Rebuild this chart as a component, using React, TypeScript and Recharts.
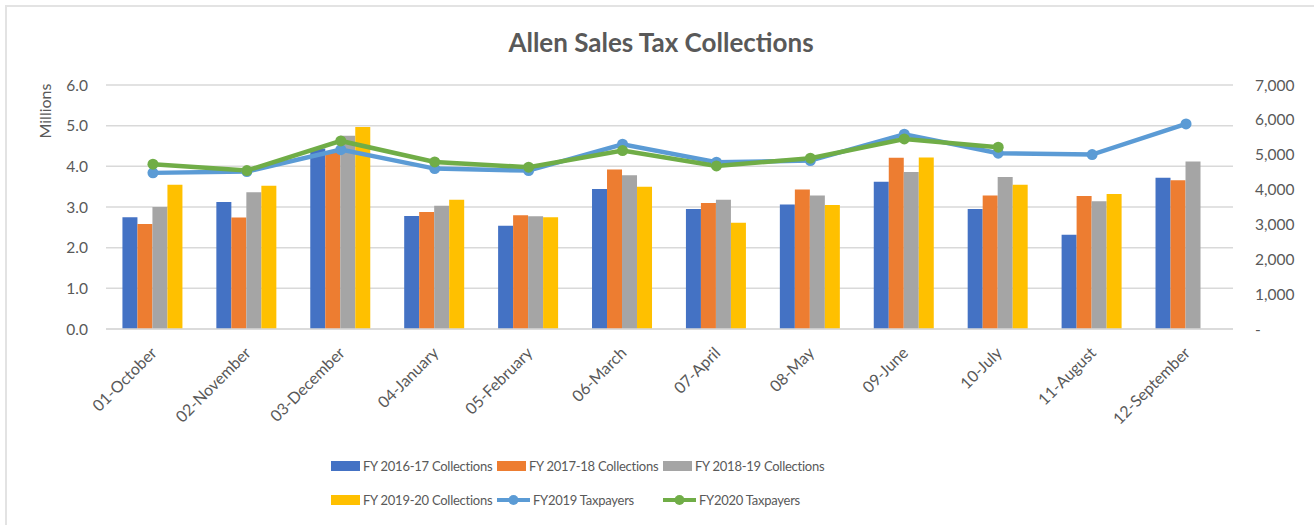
import React from "react";
import {
  ComposedChart,
  Bar,
  Line,
  XAxis,
  YAxis,
  CartesianGrid,
} from "recharts";

const months = [
  "01-October",
  "02-November",
  "03-December",
  "04-January",
  "05-February",
  "06-March",
  "07-April",
  "08-May",
  "09-June",
  "10-July",
  "11-August",
  "12-September",
];

// collections, in millions
const fy1617 = [2.75, 3.12, 4.44, 2.78, 2.54, 3.44, 2.95, 3.06, 3.62, 2.95, 2.32, 3.72];
const fy1718 = [2.58, 2.74, 4.35, 2.88, 2.8, 3.92, 3.1, 3.43, 4.21, 3.28, 3.27, 3.66];
const fy1819 = [3.0, 3.36, 4.75, 3.03, 2.77, 3.78, 3.18, 3.28, 3.86, 3.74, 3.14, 4.12];
const fy1920 = [3.55, 3.52, 4.97, 3.18, 2.75, 3.5, 2.61, 3.05, 4.22, 3.55, 3.32, null];

// taxpayer counts (right axis)
const tp2019 = [4479, 4516, 5146, 4602, 4545, 5301, 4785, 4831, 5587, 5043, 5003, 5883];
const tp2020 = [4728, 4545, 5395, 4794, 4642, 5118, 4679, 4900, 5453, 5215, null, null];

const leftTicks = [0, 1, 2, 3, 4, 5, 6];
const rightTicks = [0, 1000, 2000, 3000, 4000, 5000, 6000, 7000];

const data = months.map((m, i) => ({
  month: m,
  c1617: fy1617[i],
  c1718: fy1718[i],
  c1819: fy1819[i],
  c1920: fy1920[i],
  t2019: tp2019[i],
  t2020: tp2020[i],
}));

const FONT = "Lato, 'Liberation Sans', sans-serif";
const TEXT = "#595959";
const GRID = "#d9d9d9";

const COLORS = {
  c1617: "#4472C4",
  c1718: "#ED7D31",
  c1819: "#A5A5A5",
  c1920: "#FFC000",
  t2019: "#5B9BD5",
  t2020: "#70AD47",
};

function MonthTick(props: any) {
  const { x, y, payload } = props;
  const tx = x + 5;
  const ty = y + 25;
  return (
    <text
      x={tx}
      y={ty}
      transform={`rotate(-45 ${tx} ${ty})`}
      textAnchor="end"
      fill={TEXT}
      fontSize={16}
      fontFamily={FONT}
    >
      {payload.value}
    </text>
  );
}

const legendItems = [
  { key: "c1617", label: "FY 2016-17 Collections", type: "bar" },
  { key: "c1718", label: "FY 2017-18 Collections", type: "bar" },
  { key: "c1819", label: "FY 2018-19 Collections", type: "bar" },
  { key: "c1920", label: "FY 2019-20 Collections", type: "bar" },
  { key: "t2019", label: "FY2019 Taxpayers", type: "line" },
  { key: "t2020", label: "FY2020 Taxpayers", type: "line" },
];

function LegendSymbol({ color, type }: { color: string; type: string }) {
  if (type === "bar") {
    return (
      <svg width={29} height={10} style={{ display: "block", flexShrink: 0 }}>
        <rect x={0} y={0} width={29} height={10} fill={color} />
      </svg>
    );
  }
  return (
    <svg width={33} height={12} style={{ display: "block", flexShrink: 0 }}>
      <line x1={0} y1={6} x2={33} y2={6} stroke={color} strokeWidth={4} />
      <circle cx={16.5} cy={6} r={5} fill={color} />
    </svg>
  );
}

function ChartLegend() {
  return (
    <div
      style={{
        position: "absolute",
        left: 331,
        top: 455,
        width: 520,
        display: "grid",
        gridTemplateColumns: "166px 166px 166px",
        rowGap: 12,
        fontFamily: FONT,
        fontSize: 13,
        letterSpacing: -0.25,
        color: TEXT,
      }}
    >
      {legendItems.map((it) => (
        <div
          key={it.key}
          style={{ display: "flex", alignItems: "center", gap: 3, height: 22 }}
        >
          <LegendSymbol color={(COLORS as any)[it.key]} type={it.type} />
          <span style={{ whiteSpace: "nowrap" }}>{it.label}</span>
        </div>
      ))}
    </div>
  );
}

export default function App() {
  return (
    <div
      style={{
        position: "absolute",
        left: 0,
        top: 0,
        width: 1314,
        height: 525,
        background: "#fff",
        overflow: "hidden",
      }}
    >
      <div
        style={{
          position: "absolute",
          left: 5,
          top: 5,
          width: 1400,
          height: 600,
          borderLeft: "2px solid #e3e3e3",
          borderTop: "2px solid #e3e3e3",
        }}
      />
      <div
        style={{
          position: "absolute",
          left: 0,
          width: 1322,
          top: 25,
          textAlign: "center",
          fontFamily: FONT,
          fontWeight: 700,
          fontSize: 26,
          color: TEXT,
          lineHeight: "34px",
        }}
      >
        Allen Sales Tax Collections
      </div>
      <div style={{ position: "absolute", left: 0, top: 0 }}>
        <ComposedChart
          width={1314}
          height={525}
          data={data}
          margin={{ top: 85, right: 0, bottom: 136, left: 0 }}
          barCategoryGap="17.5%"
          barGap={0}
        >
          <CartesianGrid yAxisId="left" vertical={false} stroke={GRID} strokeWidth={1.5} />
          <XAxis
            dataKey="month"
            tick={<MonthTick />}
            tickLine={false}
            tickSize={0}
            tickMargin={0}
            axisLine={{ stroke: GRID, strokeWidth: 1.5 }}
            interval={0}
            height={60}
          />
          <YAxis
            yAxisId="left"
            domain={[0, 6]}
            ticks={leftTicks}
            width={106}
            axisLine={false}
            tickLine={false}
            tickSize={0}
            tickMargin={18}
            tickFormatter={(v: number) => v.toFixed(1)}
            tick={{ fill: TEXT, fontSize: 15.5, fontFamily: FONT }}
            label={{
              content: () => (
                <text
                  x={51}
                  y={111}
                  transform="rotate(-90 51 111)"
                  textAnchor="middle"
                  fill={TEXT}
                  fontSize={16}
                  fontFamily={FONT}
                >
                  Millions
                </text>
              ),
            }}
          />
          <YAxis
            yAxisId="right"
            orientation="right"
            domain={[0, 7000]}
            ticks={rightTicks}
            width={81}
            axisLine={false}
            tickLine={false}
            tickSize={0}
            tickMargin={22}
            tickFormatter={(v: number) => (v === 0 ? "-" : v.toLocaleString("en-US"))}
            tick={{ fill: TEXT, fontSize: 15.5, fontFamily: FONT }}
          />
          <Bar yAxisId="left" dataKey="c1617" fill={COLORS.c1617} isAnimationActive={false} />
          <Bar yAxisId="left" dataKey="c1718" fill={COLORS.c1718} isAnimationActive={false} />
          <Bar yAxisId="left" dataKey="c1819" fill={COLORS.c1819} isAnimationActive={false} />
          <Bar yAxisId="left" dataKey="c1920" fill={COLORS.c1920} isAnimationActive={false} />
          <Line
            yAxisId="right"
            dataKey="t2019"
            stroke={COLORS.t2019}
            strokeWidth={4.5}
            dot={{ r: 5.5, fill: COLORS.t2019, stroke: COLORS.t2019, strokeWidth: 0 }}
            activeDot={false}
            isAnimationActive={false}
          />
          <Line
            yAxisId="right"
            dataKey="t2020"
            stroke={COLORS.t2020}
            strokeWidth={4.5}
            dot={{ r: 5.5, fill: COLORS.t2020, stroke: COLORS.t2020, strokeWidth: 0 }}
            activeDot={false}
            isAnimationActive={false}
          />
        </ComposedChart>
      </div>
      <ChartLegend />
    </div>
  );
}
